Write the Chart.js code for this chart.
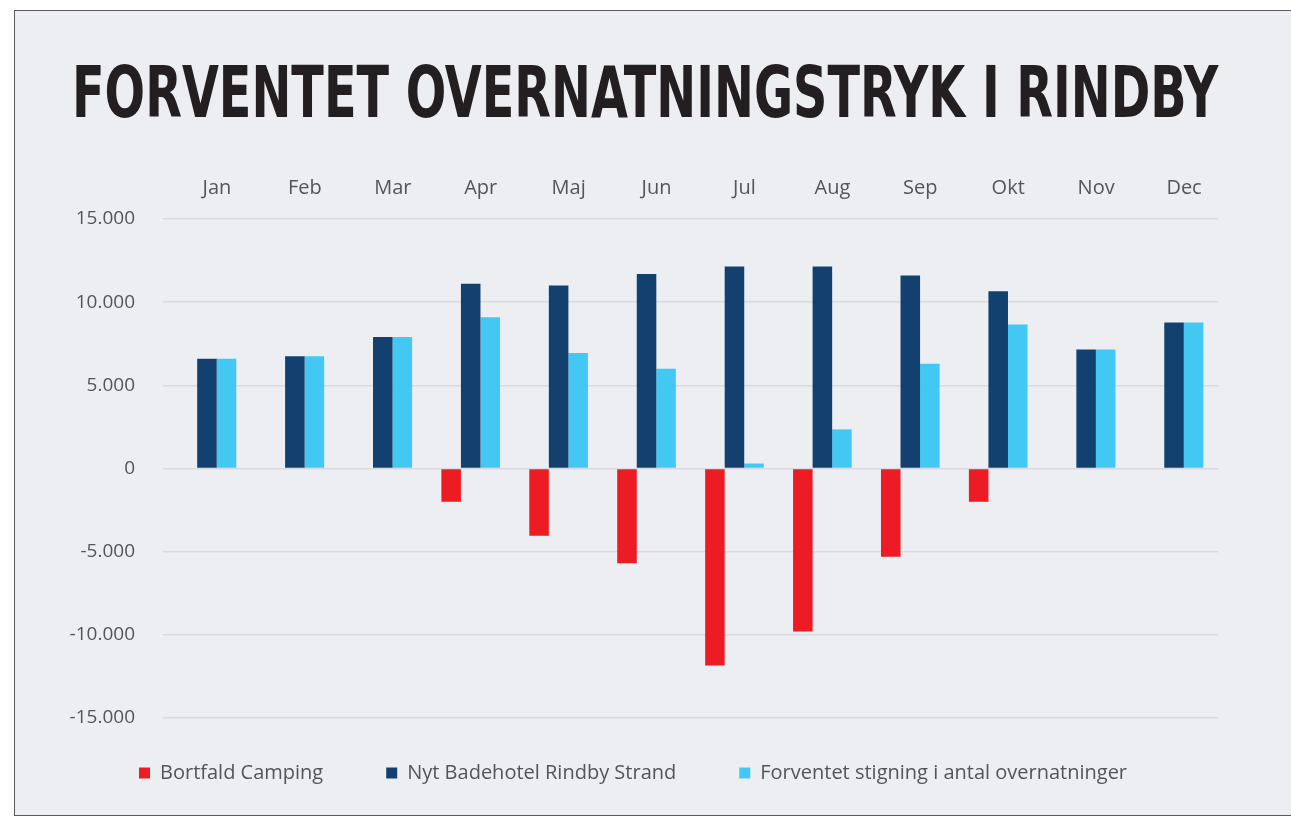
<!DOCTYPE html>
<html>
<head>
<meta charset="utf-8">
<script src="https://cdn.jsdelivr.net/npm/chart.js@4"></script>
<style>
  html, body { margin: 0; padding: 0; background: #fff; }
  #frame {
    position: absolute; left: 14px; top: 10px; width: 1290px; height: 804px;
    border: 1px solid #5a5a5c; background: #edeef2; overflow: hidden;
  }
  #title {
    position: absolute; left: 57px; top: 45px;
    font: bold 72px "Liberation Sans Narrow", "DejaVu Sans Condensed", Roboto, sans-serif;
    line-height: 72px; color: #231f20; white-space: nowrap; transform-origin: 0 0;
  }
  #wrap { position: absolute; left: 0; top: 0; width: 1276px; height: 804px; }
</style>
</head>
<body>
<div id="frame">
  <div id="title">FORVENTET OVERNATNINGSTRYK I RINDBY</div>
  <div id="wrap"><canvas id="myChart"></canvas></div>
</div>
<script>
// Forventet overnatningstryk i Rindby
const months = ['Jan', 'Feb', 'Mar', 'Apr', 'Maj', 'Jun', 'Jul', 'Aug', 'Sep', 'Okt', 'Nov', 'Dec'];
const campingLoss = [null, null, null, -2000, -4050, -5700, -11850, -9800, -5300, -2000, null, null];
const newHotel = [6600, 6750, 7900, 11100, 11000, 11700, 12150, 12150, 11600, 10650, 7150, 8780];
const expectedRise = [6600, 6750, 7900, 9100, 6950, 6000, 300, 2350, 6300, 8650, 7150, 8780];
const yTicks = [-15000, -10000, -5000, 0, 5000, 10000, 15000];

// squeeze the title to the width it has in the picture
const title = document.getElementById('title');
title.style.transform = 'scaleX(' + (1146 / title.offsetWidth) + ')';

const fmt = v => String(v).replace(/\B(?=(\d{3})+(?!\d))/g, '.');
const gray = '#555558';
const font = 'Open Sans';

// wide item spacing in the legend, but keep it close under the plot
const legendShift = {
  id: 'legendShift',
  afterLayout(chart) {
    chart.legend.left += 8;
    chart.legend.top -= 18;
  }
};

const ctx = document.getElementById('myChart').getContext('2d');

new Chart(ctx, {
  type: 'bar',
  data: {
    labels: months,
    datasets: [{
      label: 'Bortfald Camping',
      data: campingLoss,
      backgroundColor: '#ed1c24'
    }, {
      label: 'Nyt Badehotel Rindby Strand',
      data: newHotel,
      backgroundColor: '#124170'
    }, {
      label: 'Forventet stigning i antal overnatninger',
      data: expectedRise,
      backgroundColor: '#42c8f3'
    }]
  },
  plugins: [legendShift],
  options: {
    responsive: true,
    maintainAspectRatio: false,
    animation: false,
    datasets: {
      bar: { barPercentage: 1, categoryPercentage: 0.667 }
    },
    layout: { padding: { left: 53, right: 73, top: 150, bottom: 4 } },
    plugins: {
      tooltip: { enabled: false },
      legend: {
        position: 'bottom',
        align: 'start',
        labels: {
          color: gray,
          font: { family: font, size: 20 },
          boxWidth: 11,
          boxHeight: 11,
          padding: 63
        }
      }
    },
    scales: {
      x: {
        position: 'top',
        grid: { display: false },
        border: { display: false },
        ticks: {
          color: gray,
          font: { family: font, size: 20 },
          padding: 11,
          labelOffset: 10
        },
        afterFit: s => { s.height = 58; }
      },
      y: {
        min: -15000,
        max: 15000,
        afterBuildTicks: s => { s.ticks = yTicks.map(v => ({ value: v })); },
        grid: { color: '#d8d9de', lineWidth: 1.5, drawTicks: false },
        border: { display: false },
        ticks: {
          color: gray,
          font: { family: font, size: 19 },
          padding: 28,
          callback: v => fmt(v)
        },
        afterFit: s => { s.width = 95; }
      }
    }
  }
});
</script>
</body>
</html>
